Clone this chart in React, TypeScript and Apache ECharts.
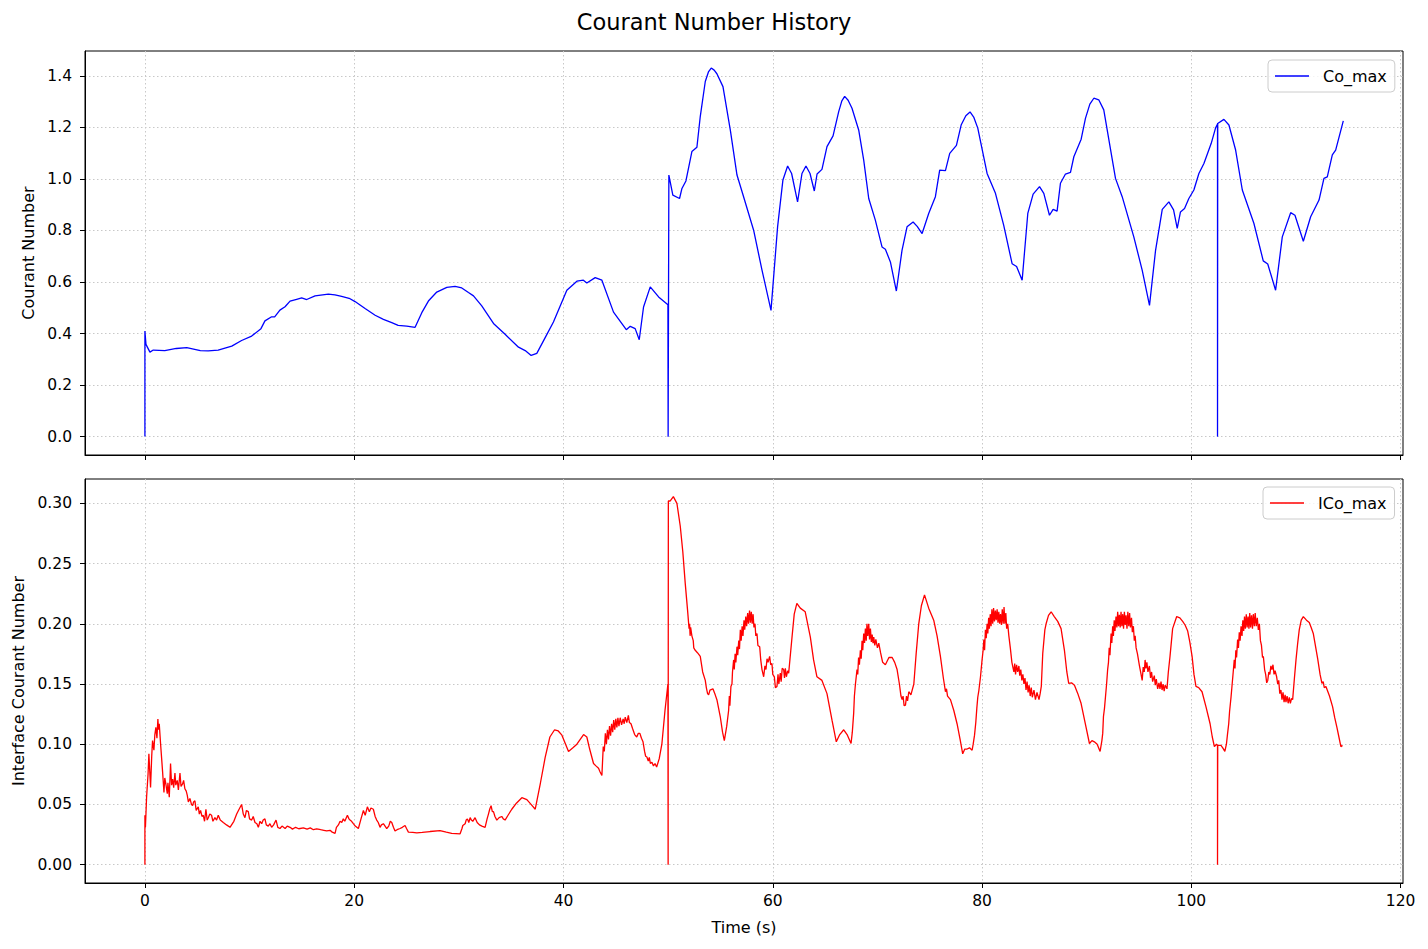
import React, { useEffect, useRef } from "react";
import * as echarts from "echarts";

const FONT = "DejaVu Sans";
const xTicks = [0, 20, 40, 60, 80, 100, 120];
const coTicks = [0, 0.2, 0.4, 0.6, 0.8, 1.0, 1.2, 1.4];
const icoTicks = [0, 0.05, 0.1, 0.15, 0.2, 0.25, 0.3];

const coMax: [number, number][] = [
  [0, 0], [0, 0.41], [0.1, 0.358], [0.48, 0.328], [0.8, 0.336], [1.9, 0.334], [3.0, 0.342], [4.0, 0.345],
  [5.3, 0.334], [6.05, 0.333], [7.0, 0.336], [8.3, 0.351], [9.24, 0.373], [10.2, 0.39], [11.09, 0.419],
  [11.47, 0.449], [12.11, 0.465], [12.4, 0.465], [12.9, 0.491], [13.39, 0.504], [13.87, 0.526], [14.5, 0.533],
  [14.98, 0.538], [15.46, 0.532], [16.26, 0.546], [17.53, 0.553], [18.16, 0.55], [18.8, 0.544], [19.6, 0.535],
  [20.08, 0.524], [21.04, 0.497], [22.0, 0.471], [22.79, 0.455], [23.59, 0.442], [24.2, 0.432], [25.02, 0.429],
  [25.82, 0.424], [26.46, 0.481], [27.09, 0.526], [27.89, 0.561], [28.85, 0.579], [29.64, 0.583], [30.28, 0.577],
  [30.92, 0.559], [31.4, 0.546], [32.19, 0.507], [33.31, 0.439], [34.42, 0.397], [35.7, 0.347], [36.34, 0.334],
  [36.91, 0.315], [37.45, 0.323], [38.25, 0.384], [39.04, 0.445], [40.32, 0.568], [41.28, 0.603], [41.9, 0.607],
  [42.23, 0.596], [43.03, 0.617], [43.67, 0.607], [44.78, 0.483], [46.0, 0.415], [46.38, 0.428], [46.85, 0.419],
  [47.24, 0.376], [47.65, 0.503], [48.29, 0.581], [49.09, 0.542], [49.98, 0.512], [50.0, 0], [50.07, 1.015],
  [50.45, 0.937], [51.09, 0.924], [51.32, 0.963], [51.7, 0.992], [52.27, 1.106], [52.75, 1.123], [53.07, 1.242],
  [53.55, 1.378], [53.85, 1.415], [54.12, 1.43], [54.4, 1.422], [54.66, 1.408], [55.24, 1.358], [55.94, 1.19],
  [56.58, 1.015], [57.21, 0.931],
  [58.17, 0.801], [58.97, 0.646], [59.83, 0.49], [60.46, 0.814], [60.97, 0.996], [61.42, 1.05], [61.8, 1.021],
  [62.37, 0.911], [62.79, 1.021], [63.17, 1.05], [63.56, 1.021], [63.97, 0.953], [64.23, 1.019], [64.7, 1.037],
  [65.18, 1.125], [65.76, 1.167], [66.3, 1.261], [66.6, 1.303], [66.87, 1.32], [67.2, 1.305], [67.57, 1.274],
  [68.21, 1.19], [68.69, 1.073],
  [69.17, 0.924], [69.8, 0.84], [70.44, 0.736], [70.76, 0.727], [71.24, 0.678], [71.81, 0.565], [72.35, 0.723],
  [72.83, 0.814], [73.41, 0.833], [73.8, 0.816], [74.27, 0.788], [74.9, 0.866], [75.54, 0.931], [75.95, 1.034],
  [76.5, 1.032], [76.91, 1.099], [77.55, 1.13], [78.0, 1.209], [78.45, 1.245], [78.85, 1.26], [79.2, 1.24],
  [79.59, 1.197], [80.48, 1.021],
  [81.28, 0.944], [82.07, 0.82], [82.87, 0.671], [83.3, 0.66], [83.83, 0.607], [84.37, 0.866], [84.88, 0.941],
  [85.49, 0.97], [85.9, 0.944], [86.44, 0.859], [86.79, 0.882], [87.17, 0.875], [87.49, 0.983], [87.97, 1.019],
  [88.45, 1.025], [88.77, 1.086], [89.47, 1.154], [89.88, 1.235], [90.3, 1.29], [90.68, 1.313], [91.15, 1.307],
  [91.63, 1.268], [92.75, 1.002], [93.39, 0.931], [94.5, 0.775], [95.3, 0.646], [96.0, 0.509], [96.58, 0.723],
  [97.22, 0.882],
  [97.85, 0.911], [98.3, 0.88], [98.65, 0.808], [98.96, 0.872], [99.35, 0.885], [99.76, 0.924], [100.24, 0.957],
  [100.72, 1.021], [101.2, 1.06], [101.9, 1.138], [102.31, 1.197], [102.5, 1.213], [102.5, 0], [102.52, 1.215],
  [103.11, 1.231], [103.59, 1.209], [104.23, 1.112], [104.87, 0.957], [105.98, 0.827], [106.87, 0.682],
  [107.3, 0.67], [108.05, 0.568], [108.69, 0.775], [109.49, 0.869], [109.9, 0.859], [110.7, 0.758],
  [111.4, 0.853], [112.2, 0.918], [112.67, 1.002], [112.99, 1.008], [113.47, 1.093], [113.79, 1.112],
  [114.52, 1.225],
];

const icoMax: [number, number][] = [
  [0, 0], [0, 0.041], [0.05, 0.031], [0.16, 0.056], [0.3, 0.075], [0.38, 0.092], [0.54, 0.064], [0.65, 0.09],
  [0.73, 0.103], [0.86, 0.095], [0.95, 0.108], [1.05, 0.114], [1.15, 0.105], [1.24, 0.121], [1.3, 0.112],
  [1.37, 0.117], [1.5, 0.1], [1.6, 0.088], [1.69, 0.077], [1.82, 0.06], [1.9, 0.072], [2.0, 0.067], [2.14, 0.059],
  [2.2, 0.068], [2.33, 0.056], [2.45, 0.084], [2.55, 0.066], [2.65, 0.071], [2.75, 0.064], [2.87, 0.076],
  [2.95, 0.066], [3.09, 0.07], [3.2, 0.062], [3.35, 0.076], [3.45, 0.065], [3.6, 0.067], [3.7, 0.07],
  [3.82, 0.063], [3.95, 0.061], [4.05, 0.0575], [4.15, 0.052], [4.3, 0.055], [4.45, 0.05], [4.56, 0.049],
  [4.65, 0.052], [4.78, 0.053], [4.9, 0.045], [5.1, 0.048], [5.2, 0.042], [5.32, 0.045], [5.45, 0.04],
  [5.58, 0.041], [5.7, 0.036], [5.83, 0.046], [5.95, 0.037], [6.06, 0.039], [6.2, 0.042], [6.37, 0.041],
  [6.5, 0.036], [6.69, 0.039], [6.85, 0.037], [7.01, 0.041], [7.2, 0.037], [7.49, 0.035], [7.8, 0.033],
  [8.13, 0.031], [8.5, 0.036], [8.77, 0.042], [9.0, 0.046], [9.24, 0.05], [9.4, 0.042], [9.56, 0.039],
  [9.7, 0.045], [9.88, 0.044], [10.0, 0.038], [10.2, 0.037], [10.35, 0.04], [10.52, 0.035], [10.7, 0.034],
  [10.84, 0.031], [11.0, 0.036], [11.16, 0.034], [11.3, 0.037], [11.47, 0.038], [11.6, 0.033], [11.79, 0.032],
  [11.95, 0.034], [12.11, 0.031], [12.3, 0.033], [12.53, 0.037], [12.7, 0.031], [12.91, 0.03], [13.1, 0.032],
  [13.4, 0.03], [13.6, 0.032], [13.87, 0.031], [14.1, 0.0295], [14.4, 0.031], [14.7, 0.0298], [15.14, 0.0306],
  [15.5, 0.0295], [15.8, 0.0305], [16.1, 0.029], [16.41, 0.0297], [16.8, 0.029], [17.1, 0.0285], [17.37, 0.028],
  [17.69, 0.0285], [17.9, 0.027], [18.17, 0.026], [18.3, 0.031], [18.49, 0.033], [18.65, 0.036], [18.81, 0.035],
  [18.96, 0.038], [19.1, 0.036], [19.35, 0.041], [19.5, 0.038], [19.6, 0.037], [19.75, 0.036], [19.92, 0.034],
  [20.1, 0.032], [20.4, 0.03], [20.65, 0.038], [20.88, 0.045], [21.05, 0.041], [21.26, 0.048], [21.45, 0.044],
  [21.6, 0.047], [21.83, 0.046], [22.0, 0.04], [22.15, 0.037], [22.3, 0.035], [22.47, 0.031], [22.6, 0.033],
  [22.79, 0.034], [22.95, 0.032], [23.11, 0.03], [23.3, 0.032], [23.45, 0.036], [23.59, 0.035], [23.75, 0.031],
  [23.9, 0.028], [24.1, 0.029], [24.38, 0.03], [24.6, 0.031], [24.86, 0.0325], [25.0, 0.03], [25.18, 0.027],
  [25.6, 0.0268], [25.98, 0.0264], [26.5, 0.0268], [27.25, 0.0275], [28.2, 0.0283], [28.8, 0.027],
  [29.32, 0.026], [30.12, 0.0256], [30.3, 0.03], [30.38, 0.0325], [30.6, 0.034], [30.7, 0.037], [30.82, 0.038],
  [30.95, 0.035], [31.08, 0.039], [31.2, 0.037], [31.33, 0.036], [31.55, 0.039], [31.75, 0.035], [31.97, 0.033],
  [32.2, 0.032], [32.51, 0.031], [32.7, 0.038], [32.83, 0.042], [32.95, 0.046], [33.08, 0.049], [33.2, 0.044],
  [33.31, 0.044], [33.45, 0.04], [33.63, 0.037], [33.85, 0.039], [34.1, 0.04], [34.25, 0.038], [34.42, 0.037],
  [34.7, 0.041], [35.06, 0.046], [35.5, 0.051], [36.02, 0.0556], [36.5, 0.054], [36.9, 0.05], [37.3, 0.046],
  [37.8, 0.068], [38.25, 0.089], [38.7, 0.106], [39.15, 0.112], [39.5, 0.111], [39.85, 0.1075], [40.2, 0.1],
  [40.48, 0.094], [40.9, 0.097], [41.28, 0.1], [41.6, 0.104], [41.92, 0.108], [42.23, 0.106], [42.5, 0.096],
  [42.87, 0.084], [43.1, 0.082], [43.35, 0.08], [43.5, 0.077], [43.67, 0.074], [43.8, 0.098], [43.9, 0.094],
  [44.0, 0.109], [44.1, 0.1], [44.2, 0.112], [44.3, 0.104], [44.4, 0.115], [44.5, 0.107], [44.6, 0.117],
  [44.7, 0.11], [44.8, 0.12], [44.9, 0.112], [45.0, 0.121], [45.1, 0.114], [45.2, 0.122], [45.3, 0.115],
  [45.42, 0.122], [45.55, 0.116], [45.7, 0.121], [45.8, 0.117], [45.9, 0.1225], [46.05, 0.118], [46.2, 0.124],
  [46.3, 0.118], [46.45, 0.117], [46.6, 0.113], [46.8, 0.108], [47.0, 0.106], [47.15, 0.109], [47.3, 0.109],
  [47.45, 0.105], [47.6, 0.102], [47.75, 0.094], [47.85, 0.09], [47.97, 0.0894], [48.1, 0.086], [48.2, 0.089],
  [48.3, 0.084], [48.45, 0.085], [48.6, 0.082], [48.75, 0.084], [48.9, 0.081], [49.15, 0.088], [49.4, 0.1],
  [49.7, 0.128], [49.98, 0.15], [50.0, 0], [50.02, 0.302], [50.2, 0.302], [50.5, 0.3056], [50.84, 0.3],
  [51.16, 0.281], [51.4, 0.26], [51.63, 0.234], [51.85, 0.212], [52.0, 0.196], [52.05, 0.2], [52.1, 0.19],
  [52.15, 0.197], [52.27, 0.19], [52.4, 0.186], [52.45, 0.18], [52.59, 0.178], [52.8, 0.176], [53.07, 0.173],
  [53.3, 0.16], [53.55, 0.153], [53.65, 0.147], [53.77, 0.142], [53.87, 0.141], [54.0, 0.145], [54.28, 0.146],
  [54.5, 0.141], [54.66, 0.137], [54.98, 0.123], [55.2, 0.11], [55.37, 0.103], [55.6, 0.115], [55.78, 0.128],
  [55.85, 0.14], [55.9, 0.132], [56.0, 0.148], [56.1, 0.15], [56.15, 0.16], [56.26, 0.17], [56.32, 0.162],
  [56.4, 0.175], [56.47, 0.168], [56.58, 0.181], [56.65, 0.174], [56.75, 0.186], [56.82, 0.179], [56.9, 0.195],
  [56.98, 0.186], [57.07, 0.198], [57.15, 0.19], [57.25, 0.203], [57.32, 0.195], [57.42, 0.206], [57.5, 0.198],
  [57.6, 0.209], [57.68, 0.2], [57.78, 0.211], [57.86, 0.201], [57.95, 0.21], [58.03, 0.2], [58.12, 0.208],
  [58.2, 0.197], [58.3, 0.2], [58.38, 0.19], [58.49, 0.192], [58.58, 0.182], [58.75, 0.181], [58.85, 0.17],
  [58.97, 0.162], [59.13, 0.156], [59.25, 0.165], [59.35, 0.162], [59.45, 0.171], [59.55, 0.168], [59.7, 0.173],
  [59.8, 0.166], [59.92, 0.167], [60.0, 0.158], [60.15, 0.156], [60.25, 0.147], [60.4, 0.148], [60.5, 0.158],
  [60.58, 0.15], [60.72, 0.159], [60.8, 0.152], [60.9, 0.163], [61.04, 0.162], [61.12, 0.155], [61.2, 0.163],
  [61.3, 0.156], [61.42, 0.161], [61.52, 0.159], [61.84, 0.189], [62.05, 0.208], [62.3, 0.217], [62.63, 0.213],
  [63.1, 0.21], [63.59, 0.189], [63.9, 0.17], [64.22, 0.156], [64.7, 0.153], [65.18, 0.142], [65.66, 0.12],
  [66.07, 0.102], [66.4, 0.108], [66.78, 0.112], [67.1, 0.108], [67.48, 0.1006], [67.6, 0.11], [67.73, 0.1256],
  [67.8, 0.14], [67.9, 0.15], [68.05, 0.162], [68.12, 0.158], [68.2, 0.172], [68.28, 0.166], [68.37, 0.178],
  [68.45, 0.171], [68.53, 0.186], [68.6, 0.178], [68.69, 0.192], [68.77, 0.184], [68.85, 0.196], [68.93, 0.186],
  [69.0, 0.2], [69.08, 0.19], [69.17, 0.2], [69.25, 0.187], [69.33, 0.196], [69.42, 0.185], [69.5, 0.191],
  [69.58, 0.184], [69.65, 0.189], [69.75, 0.182], [69.85, 0.187], [70.0, 0.18], [70.13, 0.184], [70.3, 0.176],
  [70.5, 0.168], [70.76, 0.166], [71.1, 0.172], [71.41, 0.172], [71.65, 0.168], [71.88, 0.162], [72.1, 0.15],
  [72.25, 0.14], [72.36, 0.137], [72.45, 0.14], [72.55, 0.132], [72.68, 0.1325], [72.78, 0.14], [72.88, 0.136],
  [73.0, 0.1436], [73.2, 0.141], [73.48, 0.15], [73.7, 0.175], [73.95, 0.2], [74.2, 0.215], [74.5, 0.224],
  [74.9, 0.213], [75.38, 0.203], [75.7, 0.19], [76.02, 0.173], [76.3, 0.155], [76.5, 0.1436], [76.6, 0.146],
  [76.7, 0.14], [76.98, 0.137], [77.3, 0.128], [77.61, 0.117], [77.9, 0.104], [78.15, 0.092], [78.35, 0.096],
  [78.57, 0.096], [78.8, 0.097], [79.05, 0.095], [79.15, 0.1], [79.28, 0.1075], [79.4, 0.118], [79.5, 0.13],
  [79.59, 0.139], [79.7, 0.145], [79.85, 0.156], [80.0, 0.17], [80.1, 0.178], [80.17, 0.187], [80.24, 0.178],
  [80.32, 0.195], [80.4, 0.188], [80.48, 0.2], [80.55, 0.192], [80.63, 0.205], [80.7, 0.196], [80.78, 0.208],
  [80.86, 0.198], [80.94, 0.212], [81.02, 0.2], [81.1, 0.213], [81.18, 0.202], [81.27, 0.211], [81.35, 0.203],
  [81.44, 0.212], [81.52, 0.201], [81.6, 0.21], [81.68, 0.2], [81.76, 0.208], [81.85, 0.199], [81.93, 0.212],
  [82.02, 0.2], [82.1, 0.214], [82.18, 0.2], [82.27, 0.209], [82.35, 0.196], [82.45, 0.2], [82.56, 0.19],
  [82.7, 0.18], [82.85, 0.168], [83.04, 0.16], [83.12, 0.167], [83.2, 0.158], [83.3, 0.166], [83.4, 0.16],
  [83.52, 0.165], [83.6, 0.157], [83.7, 0.162], [83.8, 0.153], [83.9, 0.158], [84.0, 0.15], [84.1, 0.155],
  [84.2, 0.145], [84.3, 0.152], [84.4, 0.143], [84.5, 0.149], [84.6, 0.14], [84.7, 0.147], [84.8, 0.139],
  [84.96, 0.145], [85.1, 0.137], [85.25, 0.143], [85.44, 0.137], [85.55, 0.142], [85.66, 0.148], [85.8, 0.1756],
  [86.0, 0.195], [86.12, 0.2], [86.35, 0.207], [86.6, 0.21], [86.9, 0.206], [87.23, 0.202], [87.55, 0.196],
  [87.87, 0.178], [88.1, 0.16], [88.28, 0.1506], [88.55, 0.151], [88.83, 0.149], [89.15, 0.142], [89.46, 0.134],
  [89.94, 0.114], [90.26, 0.1006], [90.5, 0.103], [90.73, 0.102], [91.0, 0.1], [91.28, 0.094], [91.45, 0.103],
  [91.53, 0.109], [91.6, 0.123], [91.7, 0.13], [91.79, 0.139], [91.9, 0.15], [92.0, 0.162], [92.08, 0.168],
  [92.15, 0.18], [92.22, 0.174], [92.33, 0.192], [92.4, 0.184], [92.48, 0.198], [92.55, 0.19], [92.63, 0.203],
  [92.7, 0.194], [92.8, 0.206], [92.88, 0.197], [92.96, 0.21], [93.04, 0.198], [93.12, 0.2075], [93.2, 0.197],
  [93.28, 0.21], [93.36, 0.198], [93.44, 0.208], [93.52, 0.196], [93.6, 0.21], [93.68, 0.199], [93.76, 0.207],
  [93.85, 0.196], [93.93, 0.21], [94.02, 0.198], [94.1, 0.209], [94.18, 0.197], [94.28, 0.205], [94.36, 0.193],
  [94.46, 0.198], [94.55, 0.186], [94.63, 0.19], [94.72, 0.18], [94.85, 0.175], [95.04, 0.165], [95.15, 0.16],
  [95.3, 0.153], [95.4, 0.164], [95.5, 0.16], [95.58, 0.17], [95.66, 0.163], [95.75, 0.168], [95.85, 0.16],
  [95.99, 0.165], [96.1, 0.155], [96.2, 0.16], [96.3, 0.152], [96.46, 0.157], [96.55, 0.149], [96.65, 0.154],
  [96.78, 0.146], [96.9, 0.151], [97.0, 0.146], [97.1, 0.152], [97.2, 0.145], [97.3, 0.15], [97.4, 0.144],
  [97.5, 0.149], [97.67, 0.146], [97.8, 0.16], [97.96, 0.173], [98.21, 0.196], [98.6, 0.206], [98.9, 0.205],
  [99.17, 0.202], [99.4, 0.199], [99.65, 0.194], [99.85, 0.185], [100.07, 0.173], [100.25, 0.158],
  [100.44, 0.148], [100.7, 0.147], [101.02, 0.1436], [101.4, 0.131], [101.79, 0.117], [102.0, 0.106],
  [102.2, 0.098], [102.4, 0.1], [102.5, 0.099], [102.5, 0], [102.52, 0.099], [102.83, 0.099], [103.0, 0.097],
  [103.2, 0.094], [103.35, 0.1], [103.45, 0.108], [103.57, 0.117], [103.65, 0.127], [103.79, 0.139],
  [103.9, 0.15], [104.0, 0.16], [104.1, 0.17], [104.17, 0.163], [104.25, 0.178], [104.32, 0.172], [104.42, 0.187],
  [104.5, 0.18], [104.58, 0.193], [104.66, 0.186], [104.75, 0.198], [104.84, 0.19], [104.92, 0.203],
  [105.0, 0.194], [105.08, 0.206], [105.16, 0.196], [105.25, 0.208], [105.33, 0.197], [105.42, 0.206],
  [105.5, 0.196], [105.58, 0.209], [105.66, 0.197], [105.75, 0.207], [105.84, 0.196], [105.92, 0.208],
  [106.02, 0.198], [106.1, 0.209], [106.2, 0.198], [106.3, 0.205], [106.4, 0.195], [106.5, 0.2], [106.6, 0.186],
  [106.7, 0.182], [106.8, 0.172], [106.88, 0.173], [107.0, 0.162], [107.1, 0.158], [107.2, 0.151],
  [107.3, 0.153], [107.4, 0.16], [107.5, 0.158], [107.6, 0.165], [107.7, 0.162], [107.8, 0.166], [107.9, 0.158],
  [108.0, 0.161], [108.15, 0.156], [108.25, 0.15], [108.35, 0.153], [108.45, 0.142], [108.56, 0.145],
  [108.66, 0.137], [108.76, 0.143], [108.86, 0.135], [108.96, 0.141], [109.04, 0.135], [109.15, 0.14],
  [109.25, 0.134], [109.36, 0.139], [109.46, 0.134], [109.58, 0.138], [109.68, 0.137], [109.85, 0.155],
  [110.0, 0.17], [110.15, 0.183], [110.31, 0.195], [110.5, 0.203], [110.7, 0.206], [111.0, 0.203],
  [111.27, 0.201], [111.45, 0.197], [111.65, 0.192], [111.85, 0.182], [112.07, 0.171], [112.3, 0.158],
  [112.48, 0.1506], [112.6, 0.152], [112.7, 0.147], [112.86, 0.148], [113.2, 0.14], [113.5, 0.131],
  [113.7, 0.122], [113.91, 0.114], [114.1, 0.106], [114.29, 0.098], [114.45, 0.099],
];

const X_MIN = -5.725;
const X_MAX = 120.225;
const LINE_ICON = "path://M0,0H34V1.3H0Z";

export default function App() {
  const ref = useRef<HTMLDivElement>(null);

  useEffect(() => {
    if (!ref.current) return;
    const chart = echarts.init(ref.current, undefined, { renderer: "svg" });

    const gridLine = { show: true, lineStyle: { color: "#c8c8c8", width: 1, type: [1.5, 2.5] as any } };
    const tickStyle = { show: true, inside: false, length: 5, lineStyle: { color: "#000", width: 1 } };
    const labelText = { color: "#000", fontFamily: FONT, fontSize: 15.5 };
    const legendBase = {
      orient: "vertical",
      padding: [8, 8, 8, 7],
      itemWidth: 34,
      itemHeight: 14,
      symbolKeepAspect: true,
      backgroundColor: "rgba(255,255,255,0.8)",
      borderColor: "#cccccc",
      borderWidth: 1,
      borderRadius: 4,
      textStyle: { color: "#000", fontFamily: FONT, fontSize: 16, padding: [0, 0, 0, 9] },
    };

    const xAxisBase = (gridIndex: number, showLabel: boolean) => ({
      type: "value",
      gridIndex,
      min: X_MIN,
      max: X_MAX,
      minInterval: 20,
      maxInterval: 20,
      axisLine: { show: true, onZero: false, lineStyle: { color: "#000", width: 1 } },
      axisTick: { ...tickStyle, customValues: xTicks },
      axisLabel: {
        show: showLabel,
        ...labelText,
        margin: 10,
        customValues: xTicks,
        formatter: (v: number) => String(Math.round(v)),
      },
      splitLine: gridLine,
    });

    const option: any = {
      animation: false,
      backgroundColor: "#ffffff",
      textStyle: { fontFamily: FONT },
      title: {
        text: "Courant Number History",
        left: "center",
        top: 10,
        padding: 0,
        textStyle: { fontFamily: FONT, fontSize: 22.5, fontWeight: "normal", color: "#000" },
      },
      legend: [
        { ...legendBase, data: [{ name: "Co_max", icon: LINE_ICON }], left: 1268, top: 60 },
        { ...legendBase, data: [{ name: "ICo_max", icon: LINE_ICON }], left: 1263, top: 487 },
      ],
      grid: [
        { left: 85, top: 51, width: 1318, height: 404, show: true, borderColor: "#000", borderWidth: 1, backgroundColor: "transparent" },
        { left: 85, top: 479, width: 1318, height: 404, show: true, borderColor: "#000", borderWidth: 1, backgroundColor: "transparent" },
      ],
      xAxis: [
        xAxisBase(0, false),
        {
          ...xAxisBase(1, true),
          name: "Time (s)",
          nameLocation: "middle",
          nameGap: 36,
          nameTextStyle: { color: "#000", fontFamily: FONT, fontSize: 16 },
        },
      ],
      yAxis: [
        {
          type: "value",
          gridIndex: 0,
          min: -0.0713,
          max: 1.4963,
          minInterval: 0.2,
          maxInterval: 0.2,
          axisLine: { show: true, onZero: false, lineStyle: { color: "#000", width: 1 } },
          axisTick: { ...tickStyle, customValues: coTicks },
          axisLabel: { ...labelText, margin: 13, customValues: coTicks, formatter: (v: number) => v.toFixed(1) },
          splitLine: gridLine,
          name: "Courant Number",
          nameLocation: "middle",
          nameRotate: 90,
          nameGap: 44,
          nameTextStyle: { color: "#000", fontFamily: FONT, fontSize: 16 },
        },
        {
          type: "value",
          gridIndex: 1,
          min: -0.01525,
          max: 0.32025,
          minInterval: 0.05,
          maxInterval: 0.05,
          axisLine: { show: true, onZero: false, lineStyle: { color: "#000", width: 1 } },
          axisTick: { ...tickStyle, customValues: icoTicks },
          axisLabel: { ...labelText, margin: 13, customValues: icoTicks, formatter: (v: number) => v.toFixed(2) },
          splitLine: gridLine,
          name: "Interface Courant Number",
          nameLocation: "middle",
          nameRotate: 90,
          nameGap: 53,
          nameTextStyle: { color: "#000", fontFamily: FONT, fontSize: 16 },
        },
      ],
      series: [
        {
          name: "Co_max",
          type: "line",
          xAxisIndex: 0,
          yAxisIndex: 0,
          data: coMax,
          symbol: "none",
          color: "#0000ff",
          lineStyle: { color: "#0000ff", width: 1.3 },
        },
        {
          name: "ICo_max",
          type: "line",
          xAxisIndex: 1,
          yAxisIndex: 1,
          data: icoMax,
          symbol: "none",
          color: "#ff0000",
          lineStyle: { color: "#ff0000", width: 1.3 },
        },
      ],
    };

    chart.setOption(option);
    return () => chart.dispose();
  }, []);

  return (
    <div
      ref={ref}
      style={{ position: "fixed", left: 0, top: 0, width: 1428, height: 949, background: "#fff" }}
    />
  );
}
